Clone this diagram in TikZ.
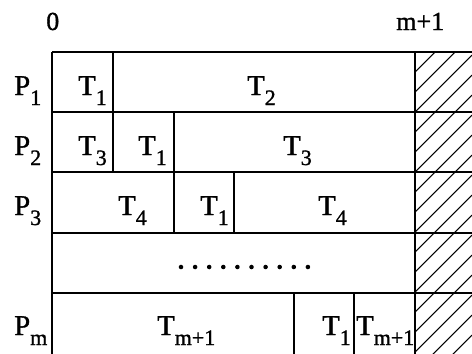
\documentclass[tikz,border=0pt]{standalone}
\usepackage{fontspec}
\setmainfont{Liberation Serif}[FakeBold=1.2]
\newcommand{\lbsub}[2]{#1\raisebox{-7.5pt}{\fontsize{16.5}{16.5}\selectfont #2}}
\begin{document}
\begin{tikzpicture}[x=0.75pt,y=-0.75pt,
  gridline/.style={line width=1.1pt},
  hatchline/.style={line width=0.8pt},
  lbl/.style={anchor=base west,inner sep=0pt,font=\fontsize{21.5}{21.5}\selectfont},
  hdr/.style={anchor=base west,inner sep=0pt,font=\fontsize{19.5}{19.5}\selectfont},
  dot/.style={circle,fill=black,inner sep=0pt,minimum size=3.4pt}]
\useasboundingbox (0,0) rectangle (472,354);
% hatched region
\begin{scope}
  \clip (415,52) rectangle (472,354);
  \foreach \c in {467,487,...,847} \draw[hatchline] (415,\c-415) -- (472,\c-472);
\end{scope}
% grid
\foreach \y in {52,112,172,233,293} \draw[gridline] (52,\y) -- (472,\y);
\draw[gridline] (52,52) -- (52,354);
\draw[gridline] (415,52) -- (415,354);
\draw[gridline] (113,52) -- (113,172);
\draw[gridline] (174,112) -- (174,233);
\draw[gridline] (234,172) -- (234,233);
\draw[gridline] (294,293) -- (294,354);
\draw[gridline] (354,293) -- (354,354);
% header
\node[hdr] (h0) at (46,30) {0};
\node[hdr] (hm) at (396,30) {m+1};
% processor labels
\node[lbl] (p1) at (14,95) {\lbsub{P}{1}};
\node[lbl] (p2) at (14,155) {\lbsub{P}{2}};
\node[lbl] (p3) at (14,215) {\lbsub{P}{3}};
\node[lbl] (pm) at (14,335) {\lbsub{P}{m}};
% row 1
\node[lbl] (r1a) at (78,95) {\lbsub{T}{1}};
\node[lbl] (r1b) at (247,95) {\lbsub{T}{2}};
% row 2
\node[lbl] (r2a) at (78,155) {\lbsub{T}{3}};
\node[lbl] (r2b) at (138,155) {\lbsub{T}{1}};
\node[lbl] (r2c) at (283,155) {\lbsub{T}{3}};
% row 3
\node[lbl] (r3a) at (118,215) {\lbsub{T}{4}};
\node[lbl] (r3b) at (200,215) {\lbsub{T}{1}};
\node[lbl] (r3c) at (318,215) {\lbsub{T}{4}};
% dots row
\foreach \i in {0,...,9} \node[dot] (d\i) at (181+14.1*\i,267) {};
% row m
\node[lbl] (rma) at (157,335) {\lbsub{T}{m+1}};
\node[lbl] (rmb) at (322,335) {\lbsub{T}{1}};
\node[lbl] (rmc) at (356,335) {\lbsub{T}{m+1}};
\end{tikzpicture}
\end{document}
